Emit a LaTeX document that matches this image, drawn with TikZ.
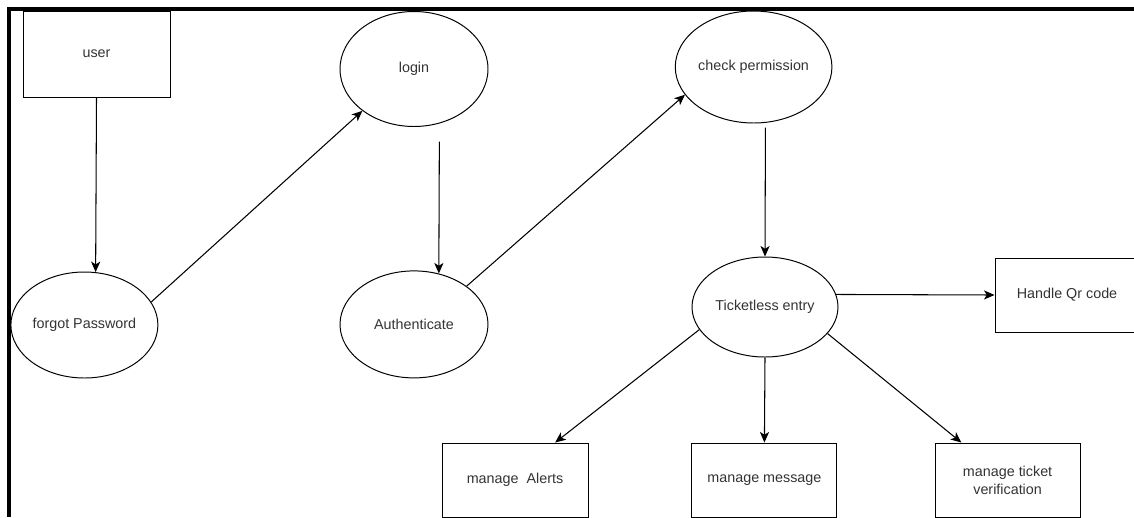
\documentclass[tikz,border=0pt]{standalone}
\usepackage{fontspec}
\setmainfont{Liberation Sans}
\usetikzlibrary{shapes.geometric,arrows.meta}

\tikzset{every node/.style={draw, text=black!80, font=\fontsize{10.2}{12.75}\selectfont, line width=0.7pt},
	box/.style={rectangle, minimum width=3.65cm, minimum height=1.85cm},
	bubble/.style={ellipse, inner sep=0pt},
	arr/.style={-{Stealth[length=7.5pt,width=6.5pt,inset=2pt]}, line width=0.75pt},
	pageframe/.style={line width=2.2pt}}

\begin{document}
\begin{tikzpicture}
			\useasboundingbox (0,0) rectangle (28.35,-12.925);
			\draw[pageframe] (0.225,-12.925) -- (0.225,-0.225) -- (28.35,-0.225);
			
			% Top row
			\node[box, minimum width=3.675cm, minimum height=2.15cm] (U) at (2.4125,-1.35) {user};
			\node[bubble, minimum width=3.7cm, minimum height=2.875cm] (L) at (10.35,-1.725) {login};
			\node[bubble, minimum width=3.725cm, minimum height=2.8cm] (P) at (18.84,-1.675) {check permission};
			
			% Middle row
			\node[bubble, minimum width=3.675cm, minimum height=2.65cm] (F) at (2.11,-8.125) {forgot Password};
			\node[bubble, minimum width=3.7cm, minimum height=2.675cm] (A) at (10.35,-8.11) {Authenticate};
			\node[bubble, minimum width=3.65cm, minimum height=2.5cm] (T) at (19.125,-7.675) {Ticketless entry};
			\node[box, minimum width=3.6cm] (Q) at (26.675,-7.375) {Handle Qr code};
			
			% Bottom row
			\node[box] (M1) at (12.875,-12) {manage\ \ Alerts};
			\node[box, minimum width=3.625cm] (M2) at (19.11,-12) {manage message};
			\node[box, minimum width=3.625cm, align=center] (M3) at (25.19,-12) {manage ticket\\verification};
			
			% Edges
			\draw[arr] (U.south) -- (F.78);
			\draw[arr] (F.19) -- (L.219);
			\draw[arr, shorten <=0.45cm] (L.-65) -- (A.64);
			\draw[arr] (A.36) -- (P.202);
			\draw[arr, shorten <=0.12cm] (P.-78) -- (T.north);
			\draw[arr] (T.10) -- (Q.west);
			\draw[arr] (T.199) -- (M1.43);
			\draw[arr] (T.south) -- (M2.north);
			\draw[arr] (T.-23) -- (M3.141);
		\end{tikzpicture}
\end{document}
